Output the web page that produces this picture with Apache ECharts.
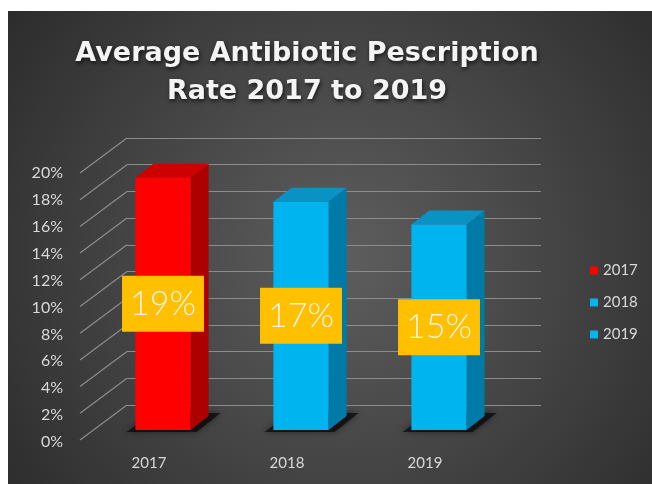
<!DOCTYPE html>
<html><head><meta charset="utf-8">
<script src="https://cdn.jsdelivr.net/npm/echarts@6/dist/echarts.min.js"></script>
<style>html,body{margin:0;padding:0;background:#fff;}#c{position:absolute;left:8px;top:11px;width:644px;height:473px;}</style>
</head><body><div id="c"></div>
<script>
// ---- data ----
const categories = ['2017', '2018', '2019'];
const values = [0.189, 0.171, 0.154];
const seriesNames = ['2017', '2018', '2019'];
const yTicks = [0, 0.02, 0.04, 0.06, 0.08, 0.10, 0.12, 0.14, 0.16, 0.18, 0.20];
const titleLines = ['Average Antibiotic Pescription', 'Rate 2017 to 2019'];

// ---- styling ----
const faceColors = [
  { front: '#ff0000', top: '#cf0000', side: '#ad0000' },
  { front: '#00b4f0', top: '#0a92c4', side: '#007aa6' },
  { front: '#00b4f0', top: '#0a92c4', side: '#007aa6' }
];
const BACK_TO_FRONT = [-47, 35];
const BAR_FRONT = [-33, 25];
const BAR_DEPTH = [18, -14];
const BAR_W = 0.4;
const FONT = 'Lato, "Open Sans", sans-serif';
const pct = v => Math.round(v * 100) + '%';

function renderBar(params, api) {
  const i = api.value(0), v = api.value(1);
  const top = api.coord([i, v]), base = api.coord([i, 0]);
  const bw = api.size([1, 0])[0] * BAR_W;
  const x0 = top[0] - bw / 2 + BAR_FRONT[0], x1 = x0 + bw;
  const yT = top[1] + BAR_FRONT[1], yB = base[1] + BAR_FRONT[1];
  const dx = BAR_DEPTH[0], dy = BAR_DEPTH[1];
  const c = faceColors[i];
  return {
    type: 'group',
    children: [
      { type: 'polygon', shape: { points: [[x0 - 9, yB + 2], [x1 + 6, yB + 2], [x1 + dx + 12, yB + dy - 3], [x0 + dx, yB + dy - 3]] },
        style: { fill: 'rgba(0,0,0,0.6)', shadowBlur: 6, shadowColor: 'rgba(0,0,0,0.8)' }, silent: true },
      { type: 'polygon', shape: { points: [[x1, yT], [x1 + dx, yT + dy], [x1 + dx, yB + dy], [x1, yB]] }, style: { fill: c.side } },
      { type: 'polygon', shape: { points: [[x0, yT], [x0 + dx, yT + dy], [x1 + dx, yT + dy], [x1, yT]] }, style: { fill: c.top } },
      { type: 'rect', shape: { x: x0, y: yT, width: bw, height: yB - yT }, style: { fill: c.front } },
      { type: 'text', x: (x0 + x1) / 2, y: (yT + yB) / 2, z2: 10,
        style: { text: pct(v), align: 'center', verticalAlign: 'middle', fill: '#f6f1e4',
          font: '300 34px ' + FONT, backgroundColor: '#ffc000', padding: [8, 8, 7, 8], lineHeight: 41 } }
    ]
  };
}

function renderDiag(params, api) {
  const p = api.coord([0, api.value(1)]);
  const xl = p[0] - api.size([1, 0])[0] / 2;
  return { type: 'line', shape: { x1: xl, y1: p[1], x2: xl + BACK_TO_FRONT[0], y2: p[1] + BACK_TO_FRONT[1] },
    style: { stroke: '#8c8c8c', lineWidth: 1.2 }, silent: true };
}

const chart = echarts.init(document.getElementById('c'));
const barSeries = seriesNames.map((name, i) => ({
  name, type: 'custom', xAxisIndex: 0, yAxisIndex: 0, clip: false, z: 5,
  itemStyle: { color: faceColors[i].front },
  renderItem: renderBar,
  data: [[i, values[i]]]
}));

chart.setOption({
  backgroundColor: { type: 'radial', x: 0.52, y: 0.52, r: 0.9,
    colorStops: [{ offset: 0, color: '#5e5e5e' }, { offset: 1, color: '#2b2b2b' }] },
  title: {
    text: titleLines.join('\n'), left: 294, top: 19, textAlign: 'center',
    textStyle: { color: '#f4f4f4', fontSize: 27, fontWeight: 'bold', fontFamily: '"DejaVu Sans", sans-serif',
      lineHeight: 38, textShadowColor: 'rgba(0,0,0,0.7)', textShadowBlur: 4, textShadowOffsetX: 1, textShadowOffsetY: 2 }
  },
  legend: {
    orient: 'vertical', left: 577, top: 247, itemWidth: 8, itemHeight: 8, itemGap: 17, icon: 'rect',
    data: seriesNames,
    textStyle: { color: '#d9d9d9', fontSize: 15, fontFamily: FONT }
  },
  grid: [
    { left: 119, top: 127, width: 414, height: 267 },
    { left: 72, top: 162, width: 414, height: 269 }
  ],
  xAxis: [
    { type: 'category', gridIndex: 0, data: categories, show: false },
    { type: 'category', gridIndex: 1, data: categories, axisLine: { show: false }, axisTick: { show: false },
      axisLabel: { color: '#d9d9d9', fontSize: 15, margin: 14, fontFamily: FONT } }
  ],
  yAxis: [
    { type: 'value', gridIndex: 0, min: 0, max: 0.2, interval: 0.02, axisLabel: { show: false },
      axisLine: { show: false }, axisTick: { show: false },
      splitLine: { show: true, lineStyle: { color: '#8c8c8c', width: 1.2 } } },
    { type: 'value', gridIndex: 1, min: 0, max: 0.2, interval: 0.02, splitLine: { show: false },
      axisLine: { show: false }, axisTick: { show: false },
      axisLabel: { color: '#d9d9d9', fontSize: 16, margin: 17, fontFamily: FONT, formatter: pct } }
  ],
  series: [
    { type: 'custom', xAxisIndex: 0, yAxisIndex: 0, clip: false, silent: true, z: 1,
      renderItem: renderDiag, data: yTicks.map(v => [0, v]) },
    ...barSeries
  ]
});
</script></body></html>
